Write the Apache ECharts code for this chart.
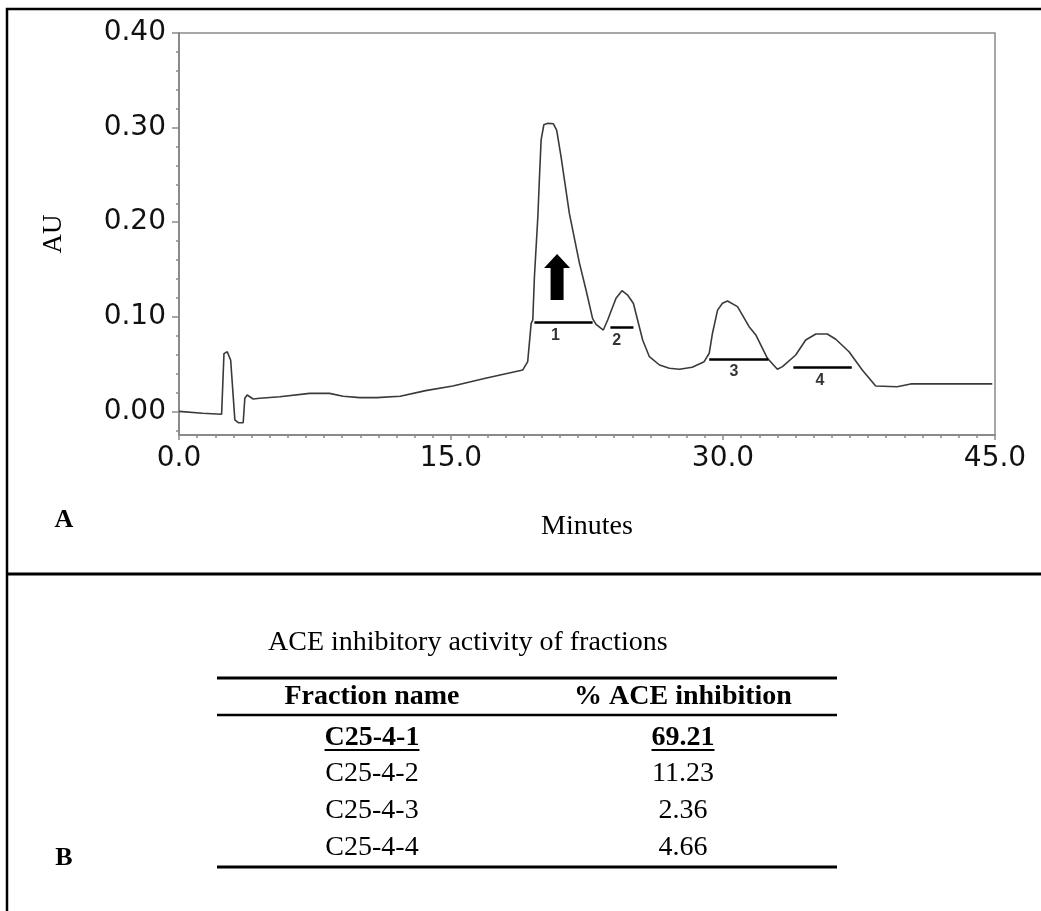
<!DOCTYPE html>
<html>
<head>
<meta charset="utf-8">
<title>C25-4 fractions</title>
<script src="https://cdn.jsdelivr.net/npm/echarts@6.0.0/dist/echarts.min.js"></script>
<style>
    html, body { margin: 0; padding: 0; background: #fff; }
    #chart { width: 1041px; height: 911px; }
</style>
</head>
<body>
<div id="chart"></div>
<script>
// MARK: - Data

const minutes = [0, 1.3, 2.35, 2.48, 2.66, 2.85, 3.08, 3.27, 3.54, 3.63, 3.76, 4.09, 4.46, 5.56, 7.2, 8.3,
    9.05, 9.97, 10.9, 12.2, 13.6, 15.1, 16.9, 18.96, 19.23, 19.42, 19.51, 19.6, 19.79, 19.88, 19.97, 20.12,
    20.34, 20.65, 20.83, 21.07, 21.53, 22.08, 22.45, 22.81, 23.0, 23.4, 23.64, 24.1, 24.43, 24.74, 25.06,
    25.29, 25.57, 25.94, 26.5, 27.04, 27.6, 28.3, 28.96, 29.24, 29.42, 29.7, 29.97, 30.25, 30.8, 31.44,
    31.81, 32.45, 33.0, 33.28, 34.01, 34.56, 35.12, 35.75, 36.22, 36.95, 37.68, 38.42, 39.6, 40.35, 44.85];

const absorbance = [0, -0.002, -0.003, 0.061, 0.063, 0.054, -0.009, -0.012, -0.012, 0.0138, 0.0173, 0.0131,
    0.0138, 0.0155, 0.019, 0.019, 0.016, 0.0145, 0.0145, 0.016, 0.0219, 0.0268, 0.035, 0.0438, 0.0525, 0.093,
    0.0966, 0.142, 0.206, 0.248, 0.287, 0.303, 0.3045, 0.304, 0.297, 0.269, 0.209, 0.157, 0.128, 0.098, 0.092,
    0.086, 0.0966, 0.1195, 0.1276, 0.123, 0.114, 0.0966, 0.0755, 0.0578, 0.049, 0.0455, 0.0445, 0.0466, 0.0525,
    0.0614, 0.0826, 0.107, 0.1143, 0.1167, 0.1107, 0.0895, 0.0808, 0.0561, 0.0445, 0.0473, 0.0596, 0.0755,
    0.0818, 0.0818, 0.0762, 0.063, 0.0438, 0.0268, 0.026, 0.029, 0.029];

// collected fractions (horizontal bars under the peaks)
const fractionLabels = ['1', '2', '3', '4'];
const fractionStart = [19.6, 23.79, 29.24, 33.88];
const fractionEnd = [22.81, 25.06, 32.5, 37.1];
const fractionLevel = [0.0938, 0.0885, 0.0551, 0.0462];
const fractionLabelAt = [20.76, 24.14, 30.6, 35.34];

// arrow pointing at the active fraction
const arrowAt = [20.85, 0.142];

const xTicks = [0, 15, 30, 45];
const yTicks = [0, 0.1, 0.2, 0.3, 0.4];
const yMinorTicks = [-0.02, 0, 0.02, 0.04, 0.06, 0.08, 0.1, 0.12, 0.14, 0.16, 0.18, 0.2,
    0.22, 0.24, 0.26, 0.28, 0.3, 0.32, 0.34, 0.36, 0.38, 0.4];

// table B
const tableTitle = 'ACE inhibitory activity of fractions';
const tableHeader = ['Fraction name', '% ACE inhibition'];
const fractionNames = ['C25-4-1', 'C25-4-2', 'C25-4-3', 'C25-4-4'];
const aceInhibition = [69.21, 11.23, 2.36, 4.66];
const bestFraction = 0;


// MARK: - Helpers

const axisGrey = '#8a8a8a';
const serif = '"Liberation Serif", "Times New Roman", serif';
const sans = '"DejaVu Sans", Arial, sans-serif';

let measureCtx = document.createElement('canvas').getContext('2d');

function textWidth(text, font) {
    measureCtx.font = font;
    return measureCtx.measureText(text).width;
}

function text(str, x, y, font, align = 'center') {
    return {
        type: 'text', x: x, y: y, silent: true,
        style: { text: str, font: font, fill: '#000', align: align, verticalAlign: 'middle' }
    };
}

function hline(x1, x2, y, width) {
    return {
        type: 'line', silent: true,
        shape: { x1: x1, y1: y, x2: x2, y2: y },
        style: { stroke: '#000', lineWidth: width }
    };
}

function buildTable() {
    let items = [];
    let colX = [372, 683];
    let rowY = [738, 774, 811, 848];
    items.push(text(tableTitle, 268, 643, '28px ' + serif, 'left'));
    items.push(hline(217, 837, 678, 3));
    items.push(text(tableHeader[0], colX[0], 697, 'bold 28px ' + serif));
    items.push(text(tableHeader[1], colX[1], 697, 'bold 28px ' + serif));
    items.push(hline(217, 837, 715, 2.5));
    fractionNames.forEach((name, i) => {
        let value = aceInhibition[i].toFixed(2);
        let font = (i === bestFraction ? 'bold ' : '') + '28px ' + serif;
        items.push(text(name, colX[0], rowY[i], font));
        items.push(text(value, colX[1], rowY[i], font));
        if (i === bestFraction) { // underlined row
            [name, value].forEach((s, c) => {
                let w = textWidth(s, font);
                items.push(hline(colX[c] - w / 2, colX[c] + w / 2, rowY[i] + 12, 2));
            });
        }
    });
    items.push(hline(217, 837, 867, 3));
    return items;
}


// MARK: - Chart

let chart = echarts.init(document.getElementById('chart'), null, { renderer: 'canvas' });

let option = {
    backgroundColor: '#fff',
    animation: false,
    grid: {
        left: 179, top: 33, right: 46, bottom: 476,
        show: true, borderColor: axisGrey, borderWidth: 1.5,
        containLabel: false, outerBoundsMode: 'none'
    },
    xAxis: {
        type: 'value', min: 0, max: 45, interval: 15,
        name: 'Minutes', nameLocation: 'middle', nameGap: 78,
        nameTextStyle: { fontFamily: serif, fontSize: 28, color: '#000' },
        axisLine: { onZero: false, lineStyle: { color: axisGrey, width: 2 } },
        axisTick: { length: 5, lineStyle: { color: axisGrey, width: 1.5 } },
        minorTick: { show: true, splitNumber: 15, length: 3, lineStyle: { color: axisGrey, width: 1.5 } },
        axisLabel: {
            margin: 10, fontFamily: sans, fontSize: 28, color: '#111',
            showMaxLabel: true, formatter: v => xTicks.includes(v) ? v.toFixed(1) : ''
        },
        splitLine: { show: false }
    },
    yAxis: [
        {
            type: 'value', min: -0.025, max: 0.4, position: 'left',
            name: 'AU', nameLocation: 'middle', nameGap: 112,
            nameTextStyle: { fontFamily: serif, fontSize: 27, color: '#000' },
            axisLine: { show: true, onZero: false, lineStyle: { color: axisGrey, width: 2 } },
            axisTick: { show: true, length: 7, customValues: yTicks, lineStyle: { color: axisGrey, width: 1.5 } },
            axisLabel: {
                margin: 13, fontFamily: sans, fontSize: 28, color: '#111',
                customValues: yTicks, formatter: v => v.toFixed(2)
            },
            splitLine: { show: false }
        },
        {
            // minor ticks only
            type: 'value', min: -0.025, max: 0.4, position: 'left', offset: 0,
            axisLine: { show: false, onZero: false },
            axisTick: { show: true, length: 3, customValues: yMinorTicks, lineStyle: { color: axisGrey, width: 1.5 } },
            axisLabel: { show: false },
            splitLine: { show: false }
        }
    ],
    series: [
        {
            name: 'AU',
            type: 'line',
            symbol: 'none',
            smooth: false,
            lineStyle: { color: '#3a3a3a', width: 1.6 },
            data: minutes.map((t, i) => [t, absorbance[i]]),
            markLine: {
                silent: true,
                symbol: 'none',
                label: { show: false },
                lineStyle: { color: '#000', width: 2.5, type: 'solid' },
                data: fractionStart.map((s, i) => [
                    { coord: [s, fractionLevel[i]] },
                    { coord: [fractionEnd[i], fractionLevel[i]] }
                ])
            },
            markPoint: {
                silent: true,
                label: { show: false },
                data: [{
                    coord: arrowAt,
                    symbol: 'path://M13,0L26,14L19.5,14L19.5,46L6.5,46L6.5,14L0,14Z',
                    symbolSize: [26, 46],
                    itemStyle: { color: '#000' }
                }]
            }
        },
        {
            name: 'fractions',
            type: 'scatter',
            symbolSize: 1,
            silent: true,
            itemStyle: { color: 'rgba(0,0,0,0)' },
            label: {
                show: true, position: 'bottom', distance: 4,
                fontFamily: '"Liberation Sans", Arial, sans-serif', fontWeight: 'bold', fontSize: 16, color: '#000',
                formatter: p => fractionLabels[p.dataIndex]
            },
            data: fractionLabelAt.map((t, i) => [t, fractionLevel[i]])
        }
    ],
    graphic: [
        {
            type: 'rect', silent: true,
            shape: { x: 7, y: 9, width: 1100, height: 1000 },
            style: { fill: 'none', stroke: '#000', lineWidth: 2.5 }
        },
        {
            type: 'line', silent: true,
            shape: { x1: 7, y1: 574, x2: 1041, y2: 574 },
            style: { stroke: '#000', lineWidth: 3 }
        },
        text('A', 64, 520, 'bold 26px ' + serif),
        text('B', 64, 858, 'bold 26px ' + serif)
    ].concat(buildTable())
};

option && chart.setOption(option);
</script>
</body>
</html>
